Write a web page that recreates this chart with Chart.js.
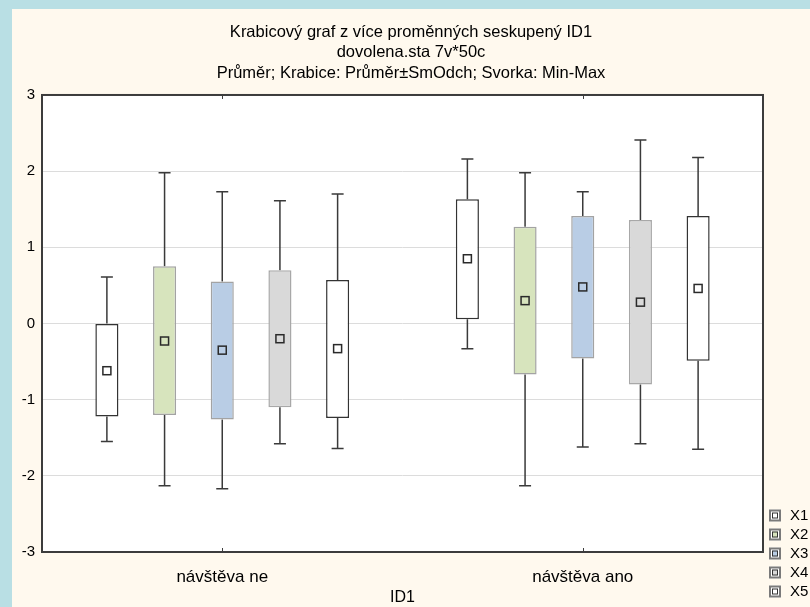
<!DOCTYPE html>
<html>
<head>
<meta charset="utf-8">
<script src="https://cdn.jsdelivr.net/npm/chart.js@4.4.0/dist/chart.umd.min.js"></script>
<style>
  html, body { margin: 0; padding: 0; }
  body { width: 810px; height: 607px; background: #b9dfe4; position: relative; overflow: hidden; }
  #panel { position: absolute; left: 12px; top: 9px; width: 798px; height: 598px; background: #fff9ee; }
  canvas { display: block; }
</style>
</head>
<body>
<div id="panel"><canvas id="c" width="798" height="598"></canvas></div>
<script>
// ---- data ----
const categories = ['návštěva ne', 'návštěva ano'];
const seriesLabels = ['X1', 'X2', 'X3', 'X4', 'X5'];
const yTicks = [-3, -2, -1, 0, 1, 2, 3];
// per series (rows), per category (columns)
const meanVals = [[-0.62, 0.85], [-0.23, 0.30], [-0.35, 0.48], [-0.20, 0.28], [-0.33, 0.46]];
const boxLow   = [[-1.22, 0.055], [-1.20, -0.67], [-1.26, -0.46], [-1.10, -0.80], [-1.24, -0.49]];
const boxHigh  = [[0.00, 1.63], [0.75, 1.27], [0.55, 1.41], [0.70, 1.36], [0.57, 1.41]];
const minVals  = [[-1.55, -0.33], [-2.13, -2.13], [-2.17, -1.62], [-1.58, -1.58], [-1.64, -1.65]];
const maxVals  = [[0.61, 2.16], [1.98, 1.98], [1.73, 1.73], [1.61, 2.41], [1.70, 2.18]];

// ---- styles ----
const fills   = ['#ffffff', '#d7e4bd', '#b9cde5', '#d9d9d9', '#ffffff'];
const borders = ['#333333', '#a3a3a3', '#a3a3a3', '#a8a8a8', '#333333'];
const FONT = "'Liberation Sans', Arial, sans-serif";

const datasets = seriesLabels.map((lab, s) => ({
  label: lab,
  data: categories.map((c, i) => [boxLow[s][i], boxHigh[s][i]]),
  backgroundColor: fills[s],
  borderColor: borders[s],
  borderWidth: 1.5,
  borderSkipped: false,
  categoryPercentage: 0.8,
  barPercentage: 0.4
}));

const boxPlugin = {
  id: 'boxExtras',
  beforeDatasetsDraw(chart) {
    const ctx = chart.ctx, y = chart.scales.y;
    ctx.save();
    chart.data.datasets.forEach((ds, s) => {
      const meta = chart.getDatasetMeta(s);
      meta.data.forEach((bar, i) => {
        const x = bar.x;
        const yMin = y.getPixelForValue(minVals[s][i]);
        const yMax = y.getPixelForValue(maxVals[s][i]);
        const yLo = y.getPixelForValue(boxLow[s][i]);
        const yHi = y.getPixelForValue(boxHigh[s][i]);
        ctx.strokeStyle = '#3a3a3a';
        ctx.lineWidth = 1.5;
        ctx.beginPath();
        ctx.moveTo(x, yMax); ctx.lineTo(x, yHi);
        ctx.moveTo(x, yLo); ctx.lineTo(x, yMin);
        ctx.moveTo(x - 6, yMax); ctx.lineTo(x + 6, yMax);
        ctx.moveTo(x - 6, yMin); ctx.lineTo(x + 6, yMin);
        ctx.stroke();
      });
    });
    ctx.restore();
  },
  afterDatasetsDraw(chart) {
    const ctx = chart.ctx, y = chart.scales.y, xs = chart.scales.x;
    const a = chart.chartArea;
    ctx.save();
    chart.data.datasets.forEach((ds, s) => {
      const meta = chart.getDatasetMeta(s);
      meta.data.forEach((bar, i) => {
        const x = bar.x;
        const ym = y.getPixelForValue(meanVals[s][i]);
        ctx.fillStyle = fills[s];
        ctx.strokeStyle = '#2a2a2a';
        ctx.lineWidth = 1.5;
        ctx.fillRect(x - 4, ym - 4, 8, 8);
        ctx.strokeRect(x - 4, ym - 4, 8, 8);
      });
    });
    // frame
    ctx.strokeStyle = '#3c3c3c';
    ctx.lineWidth = 2;
    ctx.strokeRect(a.left, a.top, a.right - a.left, a.bottom - a.top);
    // category ticks
    ctx.lineWidth = 1;
    ctx.beginPath();
    categories.forEach((c, i) => {
      const px = Math.round(xs.getPixelForValue(i)) + 0.5;
      ctx.moveTo(px, a.top); ctx.lineTo(px, a.top + 4);
      ctx.moveTo(px, a.bottom); ctx.lineTo(px, a.bottom - 4);
    });
    ctx.stroke();
    ctx.restore();
  },
  afterDraw(chart) {
    const ctx = chart.ctx;
    ctx.save();
    ctx.font = '15px ' + FONT;
    ctx.textBaseline = 'middle';
    ctx.textAlign = 'left';
    chart.data.datasets.forEach((ds, s) => {
      const cy = 506.5 + s * 19;
      const bx = 757;
      ctx.fillStyle = '#ffffff';
      ctx.fillRect(bx, cy - 6, 12, 12);
      ctx.strokeStyle = '#7a7a7a';
      ctx.lineWidth = 2;
      ctx.strokeRect(bx + 1, cy - 5, 10, 10);
      ctx.fillStyle = fills[s];
      ctx.fillRect(bx + 3, cy - 3, 6, 6);
      ctx.strokeStyle = '#333333';
      ctx.lineWidth = 1;
      ctx.strokeRect(bx + 3.5, cy - 2.5, 5, 5);
      ctx.fillStyle = '#000000';
      ctx.fillText(ds.label, 778, cy + 0.5);
    });
    ctx.restore();
  }
};

const whiteBg = {
  id: 'whiteBg',
  beforeDraw(chart) {
    const a = chart.chartArea, ctx = chart.ctx;
    ctx.save();
    ctx.fillStyle = '#ffffff';
    ctx.fillRect(a.left, a.top, a.right - a.left, a.bottom - a.top);
    ctx.restore();
  }
};

new Chart(document.getElementById('c'), {
  type: 'bar',
  data: { labels: categories, datasets },
  options: {
    responsive: false,
    animation: false,
    devicePixelRatio: 1,
    layout: { padding: 0 },
    plugins: {
      legend: { display: false },
      tooltip: { enabled: false },
      title: {
        display: true,
        text: ['Krabicový graf z více proměnných seskupený ID1', 'dovolena.sta 7v*50c', 'Průměr; Krabice: Průměr±SmOdch; Svorka: Min-Max'],
        color: '#000000',
        font: { family: FONT, size: 16.5, weight: 'normal', lineHeight: 1.242 },
        padding: { top: 13, bottom: 11.5 }
      }
    },
    scales: {
      x: {
        grid: { display: false, drawTicks: false },
        border: { display: false },
        ticks: { color: '#000', font: { family: FONT, size: 17 }, padding: 15 },
        title: { display: true, text: 'ID1', color: '#000', font: { family: FONT, size: 16 }, padding: { top: 4, bottom: 0 } },
        afterFit(scale) { scale.height = 55; }
      },
      y: {
        min: -3, max: 3,
        afterBuildTicks(scale) { scale.ticks = yTicks.map(v => ({ value: v })); },
        grid: { color: '#dcdcdc', lineWidth: 1, drawTicks: false },
        border: { display: false },
        ticks: { color: '#000', font: { family: FONT, size: 15 }, padding: 7 },
        afterFit(scale) { scale.width = 30; }
      },
      yRight: {
        position: 'right',
        min: -3, max: 3,
        grid: { display: false, drawTicks: false },
        border: { display: false },
        ticks: { display: false },
        afterFit(scale) { scale.width = 47; }
      }
    }
  },
  plugins: [whiteBg, boxPlugin]
});
</script>
</body>
</html>
